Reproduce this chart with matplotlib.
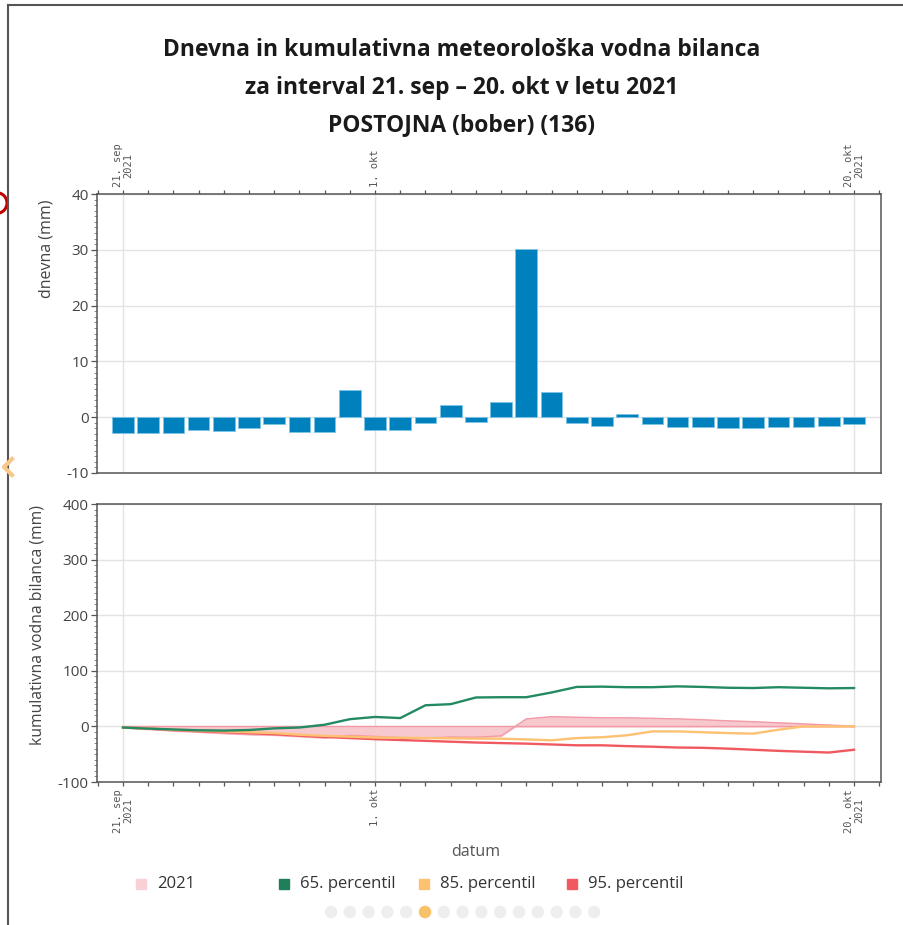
import numpy as np
import pandas as pd
import matplotlib
matplotlib.use("Agg")
import matplotlib.pyplot as plt
import matplotlib.dates as mdates
from matplotlib.patches import Rectangle, Circle
from matplotlib.lines import Line2D

plt.rcParams['font.family'] = ['Open Sans', 'DejaVu Sans']
plt.rcParams['axes.unicode_minus'] = False

# podatki: 21. sep - 20. okt 2021
datumi = pd.date_range('2021-09-21', '2021-10-20', freq='D')
dnevna = [-2.9, -2.9, -2.9, -2.3, -2.5, -2.0, -1.2, -2.7, -2.7, 4.9,
          -2.3, -2.3, -1.0, 2.1, -0.8, 2.7, 30.2, 4.5, -1.0, -1.6,
          0.5, -1.2, -1.8, -1.8, -2.0, -2.0, -1.8, -1.8, -1.6, -1.3]
kum_2021 = [-2, -5, -8, -10, -12.5, -14.5, -15.5, -18, -20.5, -16,
            -18, -20, -21, -19, -19.5, -17, 13.5, 17.5, 16.5, 15.5,
            15.5, 14.5, 13.5, 12, 10, 8.5, 6.5, 4.5, 2.5, 0.5]
p65 = [-2, -4, -5.5, -7, -7.5, -6.5, -3.5, -2, 3, 13,
       17, 15, 38, 40, 52, 52.5, 52.5, 61, 71, 71.5,
       70.5, 70.5, 72, 71, 69.5, 69, 70.5, 69.5, 68.5, 69]
p85 = [-2, -4, -6, -7.5, -9, -10.5, -12, -15, -17, -18.5,
       -20, -20.5, -21, -21.5, -22, -22, -23.5, -25, -21, -19.5,
       -16, -9, -9, -10.5, -12, -13, -6, 0, 0, 0]
p95 = [-2, -4, -6.5, -8.5, -10, -12, -14, -16.5, -19, -21,
       -23, -24.5, -26, -27.5, -29, -30, -31, -32.5, -34, -34,
       -35.5, -36.5, -38, -38.5, -40, -42, -44, -45.5, -47, -42]
oznake_datum = ['2021-09-21', '2021-10-01', '2021-10-20']
oznake_tekst = ['21. sep\n2021', '1. okt', '20. okt\n2021']
legenda_imena = ['2021', '65. percentil', '85. percentil', '95. percentil']
legenda_barve = ['#f9d0d6', '#1d8058', '#fdc172', '#f0595f']

W, H = 904, 925
fig = plt.figure(figsize=(W / 100, H / 100), dpi=100)


def fx(x):
    return x / W


def fy(y):
    return 1 - y / H


ax1 = fig.add_axes([fx(97), fy(473), fx(881) - fx(97), fy(194) - fy(473)])
ax2 = fig.add_axes([fx(97), fy(782), fx(881) - fx(97), fy(504) - fy(782)])

x = mdates.date2num(datumi)
x0 = x[0] - 1.03
x1 = x[-1] + 1.07
major = mdates.date2num(pd.to_datetime(oznake_datum))
gcol = '#e3e3e3'
tcol = '#444444'

# dnevna bilanca
ax1.bar(x, dnevna, width=0.86, color='#0080bd', edgecolor='#7cc4e6',
        linewidth=0.6, zorder=3)
ax1.set_ylim(-10, 40)
ax1.set_yticks(np.arange(-10, 41, 10))
ax1.set_yticks(np.arange(-10, 41, 1), minor=True)

# kumulativna bilanca
ax2.fill_between(x, 0, kum_2021, color='#f8c8cf', zorder=2)
ax2.plot(x, kum_2021, color='#f29aa5', lw=1.0, zorder=2)
ax2.plot(x, np.zeros(len(x)), color='#f29aa5', lw=1.0, zorder=2)
ax2.plot(x, p95, color='#f0595f', lw=1.7, zorder=3)
ax2.plot(x, p85, color='#fdc172', lw=1.7, zorder=4)
ax2.plot(x, p65, color='#238a62', lw=1.7, zorder=5)
ax2.set_ylim(-100, 400)
ax2.set_yticks(np.arange(-100, 401, 100))
ax2.set_yticks(np.arange(-100, 401, 10), minor=True)

for ax in (ax1, ax2):
    ax.set_xlim(x0, x1)
    ax.set_xticks(major)
    ax.set_xticklabels(oznake_tekst, rotation=90, family='DejaVu Sans Mono',
                       fontsize=7.5, color='#555555', linespacing=1.0)
    ax.set_xticks(np.arange(x[0] - 1, x[-1] + 2), minor=True)
    ax.grid(True, which='major', color=gcol, lw=1.0, zorder=0)
    ax.set_axisbelow(True)
    for s in ax.spines.values():
        s.set_color('#555555')
        s.set_linewidth(1.1)
    ax.tick_params(axis='y', which='major', length=4, width=0.9,
                   color='#555555', labelsize=11, labelcolor=tcol, pad=2)
    ax.tick_params(axis='y', which='minor', length=2.5, width=0.6,
                   color='#777777')
    ax.tick_params(axis='x', which='both', length=3, width=0.9,
                   color='#555555', pad=2)

ax1.xaxis.tick_top()
ax1.tick_params(axis='x', which='both', top=True, bottom=False,
                labeltop=True, labelbottom=False)
for t in ax1.get_xticklabels():
    t.set_va('bottom')

# naslov
naslov = ['Dnevna in kumulativna meteorološka vodna bilanca',
          'za interval 21. sep – 20. okt v letu 2021',
          'POSTOJNA (bober) (136)']
for i, vrstica in enumerate(naslov):
    fig.text(fx(462), fy(50 + 37.5 * i), vrstica, ha='center', va='center',
             fontsize=16.5, fontweight='bold', color='#1a1a1a')

fig.text(fx(47), fy(249), 'dnevna (mm)', rotation=90, ha='center',
         va='center', fontsize=11.5, color=tcol)
fig.text(fx(38), fy(625), 'kumulativna vodna bilanca (mm)', rotation=90,
         ha='center', va='center', fontsize=11.3, color=tcol)
fig.text(fx(476), fy(852), 'datum', ha='center', va='center', fontsize=11.5,
         color='#555555')

# legenda
leg_x = [141, 284, 424, 572]
for xi, ime, barva in zip(leg_x, legenda_imena, legenda_barve):
    fig.patches.append(Rectangle((fx(xi - 5), fy(889)), fx(10), fy(879) - fy(889),
                                 transform=fig.transFigure, color=barva))
    fig.text(fx(xi + 16), fy(884), ime, ha='left', va='center', fontsize=12,
             color='#333333')

# pikice za listanje
for i in range(15):
    barva = '#f9c06a' if i == 5 else '#eeeeee'
    fig.patches.append(Circle((fx(331 + 18.8 * i), fy(912)), fx(5.5),
                              transform=fig.transFigure, color=barva))

# okvir strani
fig.add_artist(Line2D([fx(8), fx(8)], [fy(5), fy(925)], color='#555555', lw=1.5))
fig.add_artist(Line2D([fx(8), fx(904)], [fy(5), fy(5)], color='#555555', lw=1.5))
fig.patches.append(Circle((fx(-3), fy(203)), fx(10), transform=fig.transFigure,
                          fill=False, edgecolor='#c00000', lw=2.2))
fig.add_artist(Line2D([fx(12), fx(4), fx(12)], [fy(459), fy(467), fy(475)],
                      color='#f7c88a', lw=3))

fig.savefig('out.png', dpi=100)
